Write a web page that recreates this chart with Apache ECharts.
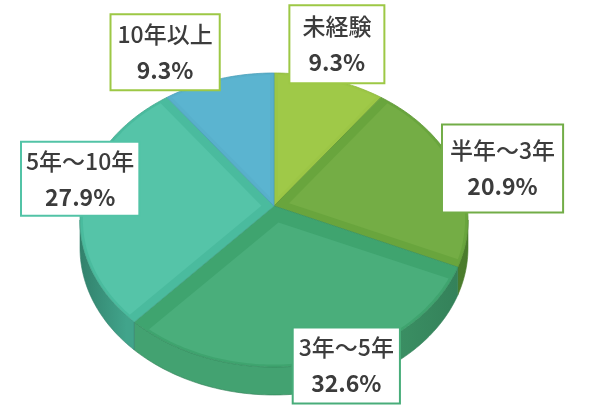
<!DOCTYPE html>
<html>
<head>
<meta charset="utf-8">
<script src="https://cdn.jsdelivr.net/npm/echarts@6/dist/echarts.min.js"></script>
<style>
html, body { margin: 0; padding: 0; background: #fff; }
#content-data { width: 592px; height: 414px; }
</style>
</head>
<body>
<div id="content-data"></div>
<script>
/*DATA*/
var categories = ['未経験', '半年〜3年', '3年〜5年', '5年〜10年', '10年以上'];
var shares = [9.3, 20.9, 32.6, 27.9, 9.3];

/*STYLE*/
var topColors = ['#9fc948', '#74ad45', '#4aae7b', '#55c4a8', '#5bb4d0'];
var bevelColors = ['#9cc645', '#69a53d', '#3fa46f', '#4abb9e', '#58b0cb'];
var sideColors = ['#86b23a', '#5c9636', '#43a271', '#41a48b', '#4a9fba'];
var sideDarkColors = ['#6f9530', '#4a7b2c', '#337f58', '#32816c', '#3a7f95'];
var lineColors = ['#8db83d', '#5f9736', '#3a9566', '#45a88e', '#4b9fba'];
var borderColors = ['#9dc845', '#72ad47', '#48ad7a', '#52c3a6', '#9dc845'];
var bevelWidths = [0.02, 0.05, 0.09, 0.05, 0.02];
var labelOffsets = [[7, -35], [45, -4], [30, 2], [-1, -25], [-53, -27]];
var labelPads = [[2, 12], [7, 7], [1, 5], [0, 4], [1, 6]];

var center = [274, 220];
var radius = [194, 147];
var lift = 14;
var depth = 28;

function graphic1(){
	var dom = document.getElementById('content-data');
	var myChart = echarts.init(dom, null, {
		renderer: 'canvas',
		useDirtyRect: false
	});

	var total = shares.reduce(function(a, b){ return a + b; }, 0);
	var starts = [];
	var acc = 0;
	shares.forEach(function(v){
		starts.push(acc / total * Math.PI * 2);
		acc += v;
	});

	// unit disc -> screen (angle clockwise from 12 o'clock)
	function toScreen(ux, uy, dy){
		var rho = Math.min(1, Math.sqrt(ux * ux + uy * uy));
		return [center[0] + radius[0] * ux, center[1] - radius[1] * uy - lift * (1 - rho) + (dy || 0)];
	}
	function arc(a0, a1, r, dy){
		var pts = [];
		var steps = Math.max(2, Math.ceil((a1 - a0) / 0.02));
		for (var k = 0; k <= steps; k++) {
			var a = a0 + (a1 - a0) * k / steps;
			pts.push(toScreen(r * Math.sin(a), r * Math.cos(a), dy));
		}
		return pts;
	}

	function renderItem(params, api){
		var i = params.dataIndex;
		var a0 = starts[i];
		var a1 = a0 + api.value(0) / total * Math.PI * 2;
		var children = [];

		// side wall, only the front half is seen
		var s0 = Math.max(a0, Math.PI / 2);
		var s1 = Math.min(a1, Math.PI * 1.5);
		if (s1 > s0) {
			var topEdge = arc(s0, s1, 1, 0);
			var bottomEdge = arc(s0, s1, 1, depth).reverse();
			children.push({
				type: 'polygon',
				shape: { points: topEdge.concat(bottomEdge) },
				style: {
					fill: new echarts.graphic.LinearGradient(center[0] - radius[0], 0, center[0] + radius[0], 0, [
						{ offset: 0, color: sideDarkColors[i] },
						{ offset: 0.12, color: sideColors[i] },
						{ offset: 0.6, color: sideColors[i] },
						{ offset: 1, color: sideDarkColors[i] }
					], true),
					stroke: sideDarkColors[i],
					lineWidth: 0.6
				}
			});
		}

		// top face
		var apex = toScreen(0, 0);
		children.push({
			type: 'polygon',
			shape: { points: [apex].concat(arc(a0, a1, 1, 0)) },
			style: { fill: bevelColors[i], stroke: lineColors[i], lineWidth: 0.8 }
		});

		// bevel inset
		var half = (a1 - a0) / 2;
		var mid = a0 + half;
		var w = bevelWidths[i];
		var rIn = 0.985;
		var d = Math.min(0.4, w / Math.sin(Math.min(half, Math.PI / 2)));
		var inApex = toScreen(d * Math.sin(mid), d * Math.cos(mid));
		var da = Math.asin(w / rIn);
		children.push({
			type: 'polygon',
			shape: { points: [inApex].concat(arc(a0 + da, a1 - da, rIn, 0)) },
			style: { fill: topColors[i] }
		});

		// label
		var anchor = toScreen(Math.sin(mid), Math.cos(mid));
		var name = categories[i];
		var pct = api.value(0).toFixed(1) + '%';
		children.push({
			type: 'text',
			z2: 100,
			x: anchor[0] + labelOffsets[i][0],
			y: anchor[1] + labelOffsets[i][1],
			style: {
				text: '{n|' + name + '}\n{p|' + pct + '}',
				align: 'center',
				verticalAlign: 'middle',
				backgroundColor: '#fff',
				borderColor: borderColors[i],
				borderWidth: 2,
				padding: labelPads[i],
				rich: {
					n: { fontSize: 23, lineHeight: 36, fontWeight: 500, fill: '#3c3c3c', fontFamily: 'Noto Sans CJK JP' },
					p: { fontSize: 23, lineHeight: 36, fontWeight: 'bold', fill: '#3c3c3c', fontFamily: 'Noto Sans CJK JP' }
				}
			}
		});

		return { type: 'group', children: children };
	}

	var option = {
		backgroundColor: '#ffffff',
		animation: false,
		series: [
			{
				type: 'custom',
				coordinateSystem: 'none',
				renderItem: renderItem,
				data: shares.map(function(v, i){ return { name: categories[i], value: [v] }; })
			}
		]
	};

	if (option && typeof option === 'object') {
		myChart.setOption(option);
	}
	window.addEventListener('resize', myChart.resize);
}
graphic1()
</script>
</body>
</html>
